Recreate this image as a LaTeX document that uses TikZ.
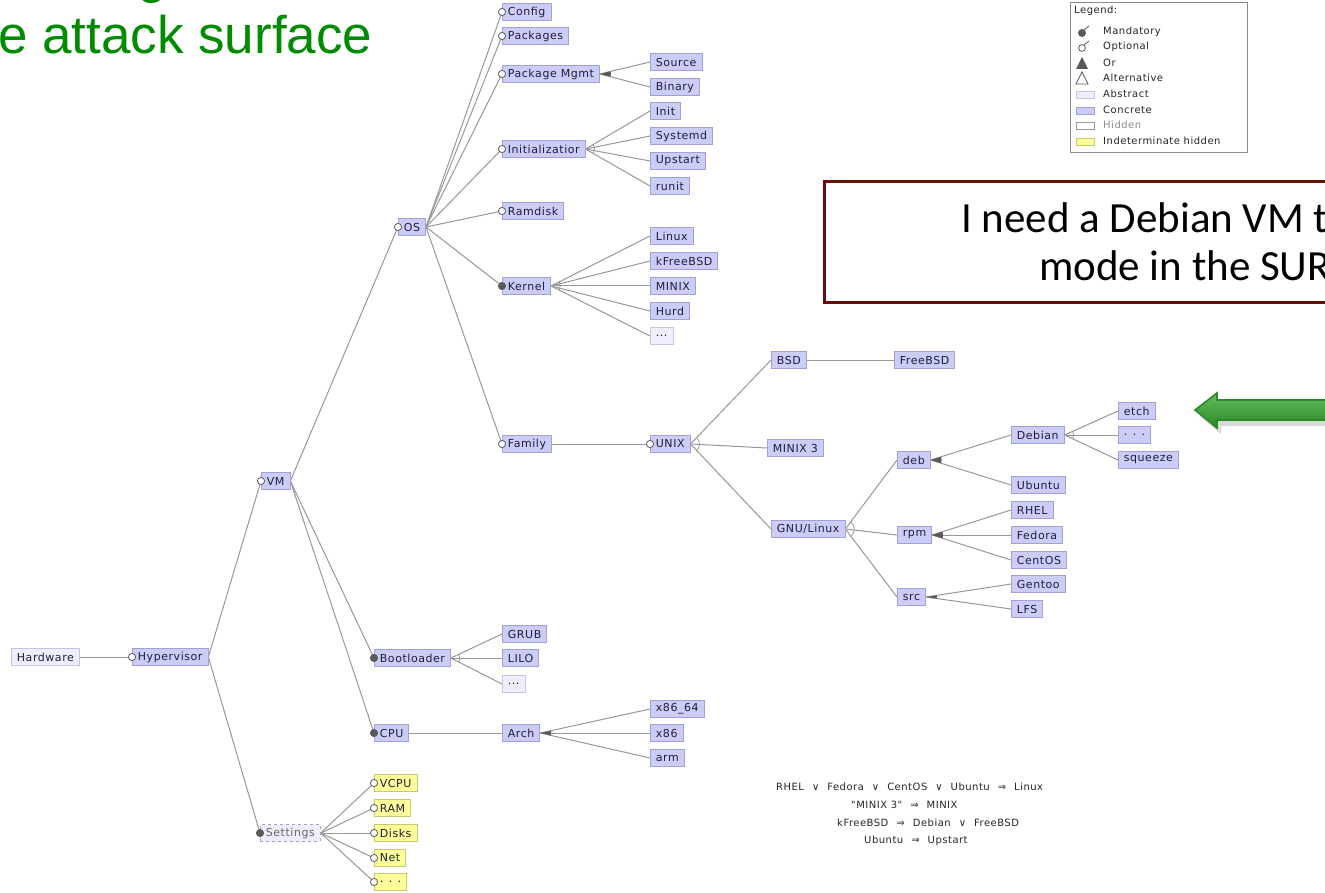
\documentclass[tikz,border=0pt]{standalone}
\usepackage{fontspec}
\setmainfont{DejaVu Sans}
\newfontfamily\nodef[LetterSpace=5]{DejaVu Sans}
\newfontfamily\carl{Carlito}
\newfontfamily\arialf{Liberation Sans}
\usetikzlibrary{calc}
\pgfdeclarelayer{bg}\pgfdeclarelayer{fg}\pgfsetlayers{bg,main,fg}
\definecolor{conc}{HTML}{CCCCF8}
\definecolor{concb}{HTML}{A0A0DC}
\definecolor{absf}{HTML}{EEEEFD}
\definecolor{absb}{HTML}{C4C4E6}
\definecolor{yelf}{HTML}{FFFF99}
\definecolor{yelb}{HTML}{C8C870}
\definecolor{edgec}{HTML}{979797}
\definecolor{markc}{HTML}{5A5A5A}
\definecolor{txt}{HTML}{1E1E3C}
\definecolor{ttlgreen}{HTML}{008C00}
\definecolor{boxred}{HTML}{6B0C0C}
\definecolor{arrg}{HTML}{3FA83A}
\definecolor{arrgd}{HTML}{2A8A25}
\tikzset{
  feat/.style={anchor=west, inner xsep=5.5pt, inner ysep=0pt, minimum height=17pt,
    font=\nodef\fontsize{11}{13}\selectfont, text=txt, line width=0.8pt},
  conc/.style={feat, fill=conc, draw=concb},
  abst/.style={feat, fill=absf, draw=absb},
  yel/.style={feat, fill=yelf, draw=yelb},
  hid/.style={feat, fill=absf, draw=concb, dashed, text=black!60},
  edge/.style={draw=edgec, line width=1pt},
  optmark/.style={draw=markc, fill=white, line width=0.8pt},
  manmark/.style={draw=markc, fill=markc, line width=0.8pt},
  legtxt/.style={anchor=west, inner sep=0pt, font=\nodef\fontsize{10}{12}\selectfont, text=black!85},
  constr/.style={anchor=west, inner sep=0pt, font=\nodef\fontsize{10}{12}\selectfont, text=black!85},
}
\newcommand\csp{\hspace{8pt}}
\newcommand\edg[2]{\begin{pgfonlayer}{bg}\draw[edge] (#1.east) -- (#2.west);\end{pgfonlayer}}
\newcommand\optm[1]{\begin{pgfonlayer}{fg}\draw[optmark] (#1.west) circle (3.6pt);\end{pgfonlayer}}
\newcommand\manm[1]{\begin{pgfonlayer}{fg}\draw[manmark] (#1.west) circle (3.6pt);\end{pgfonlayer}}
\newcommand\orw[3]{\begin{pgfonlayer}{fg}\fill[markc] let \p1=($(#2.west)-(#1.east)$), \p2=($(#3.west)-(#1.east)$),
  \n1={atan2(\y1,\x1)}, \n2={atan2(\y2,\x2)} in
  (#1.east) -- ($(#1.east)+(\n1:11pt)$) arc[start angle=\n1, end angle=\n2, radius=11pt] -- cycle;\end{pgfonlayer}}
\newcommand\altw[3]{\begin{pgfonlayer}{fg}\draw[edge, line width=0.8pt] let \p1=($(#2.west)-(#1.east)$), \p2=($(#3.west)-(#1.east)$),
  \n1={atan2(\y1,\x1)}, \n2={atan2(\y2,\x2)} in
  ($(#1.east)+(\n1:9pt)$) arc[start angle=\n1, end angle=\n2, radius=9pt];\end{pgfonlayer}}
\begin{document}
\begin{tikzpicture}[x=1pt,y=-1pt]
\path[use as bounding box] (0,0) rectangle (1325,893);
\begin{scope}
\clip (0,0) rectangle (1325,893);
% title
\node[anchor=base west, inner sep=0pt, text=ttlgreen, font=\arialf\fontsize{53}{60}\selectfont] (ttl) at (-2,54) {e attack surface};
\node[anchor=base west, inner sep=0pt, text=ttlgreen, font=\arialf\fontsize{53}{60}\selectfont] (ttlg) at (137,-7) {g};
% callout
\node[draw=boxred, line width=3pt, fill=white, anchor=north west, minimum width=540pt, minimum height=121pt, inner sep=0pt] (callout) at (823,180) {};
\node[anchor=base west, inner sep=0pt, font=\carl\fontsize{43}{50}\selectfont] (cl1) at (961,233) {I need a Debian VM to};
\node[anchor=base west, inner sep=0pt, font=\carl\fontsize{43}{50}\selectfont] (cl2) at (1039,280) {mode in the SURF};
% green arrow
\fill[black!25, opacity=0.6] (1199,416) -- (1221,399) -- (1221,406) -- (1340,406) -- (1340,426) -- (1221,426) -- (1221,434) -- cycle;
\draw[arrgd, line width=1.6pt, top color=arrg!80!white, bottom color=arrgd] (1195,410) -- (1217,393) -- (1217,400) -- (1340,400) -- (1340,420) -- (1217,420) -- (1217,428) -- cycle;
% legend
\node[draw=black!45, line width=0.8pt, fill=white, anchor=north west, minimum width=177pt, minimum height=150pt, inner sep=0pt] (legend) at (1070,2) {};
\node[legtxt] (lg0) at (1074,11) {Legend:};
\node[legtxt] (lg1) at (1103,32) {Mandatory};
\node[legtxt] (lg2) at (1103,47) {Optional};
\node[legtxt] (lg3) at (1103,63) {Or};
\node[legtxt] (lg4) at (1103,78) {Alternative};
\node[legtxt] (lg5) at (1103,94) {Abstract};
\node[legtxt] (lg6) at (1103,110) {Concrete};
\node[legtxt, text=black!45] (lg7) at (1103,125) {Hidden};
\node[legtxt] (lg8) at (1103,141) {Indeterminate hidden};
\fill[markc] (1082,33) circle (4pt);
\draw[markc, line width=0.8pt] (1084,30) -- (1089,26);
\draw[markc, fill=white, line width=0.8pt] (1082,48) circle (3.4pt);
\draw[markc, line width=0.8pt] (1084,45) -- (1089,41);
\fill[markc] (1082,57) -- (1076,69) -- (1088,69) -- cycle;
\draw[markc, line width=0.7pt] (1082,72) -- (1076,84) -- (1088,84) -- cycle;
\draw[absb, fill=absf, line width=0.8pt] (1076,91) rectangle (1094,98);
\draw[concb, fill=conc, line width=0.8pt] (1076,107) rectangle (1094,114);
\draw[black!40, fill=white, line width=0.8pt] (1076,122) rectangle (1094,129);
\draw[yelb, fill=yelf, line width=0.8pt] (1076,138) rectangle (1094,145);
% constraints
\node[constr] (c1) at (776,787) {RHEL\csp ∨\csp Fedora\csp ∨\csp CentOS\csp ∨\csp Ubuntu\csp ⇒\csp Linux};
\node[constr] (c2) at (851,805) {"MINIX 3"\csp ⇒\csp MINIX};
\node[constr] (c3) at (837,823) {kFreeBSD\csp ⇒\csp Debian\csp ∨\csp FreeBSD};
\node[constr] (c4) at (864,841) {Ubuntu\csp ⇒\csp Upstart};
% feature nodes
\node[abst] (hardware) at (11,657) {Hardware};
\node[conc] (hyper) at (132,657) {Hypervisor};
\node[conc] (vm) at (261,481) {VM};
\node[hid] (settings) at (260,833) {Settings};
\node[conc] (os) at (398,227) {OS};
\node[conc] (boot) at (374,658) {Bootloader};
\node[conc] (cpu) at (374,733) {CPU};
\node[yel] (vcpu) at (374,783) {VCPU};
\node[yel] (ram) at (374,808) {RAM};
\node[yel] (disks) at (374,833) {Disks};
\node[yel] (net) at (374,858) {Net};
\node[yel] (ydots) at (374,882) {. . .};
\node[conc] (config) at (502,12) {Config};
\node[conc] (packages) at (502,36) {Packages};
\node[conc] (pkgmgmt) at (502,74) {Package Mgmt};
\node[conc] (initz) at (502,149) {Initializatior};
\node[conc] (ramdisk) at (502,211) {Ramdisk};
\node[conc] (kernel) at (502,286) {Kernel};
\node[conc] (family) at (502,444) {Family};
\node[conc] (grub) at (502,634) {GRUB};
\node[conc] (lilo) at (502,658) {LILO};
\node[abst] (bdots) at (502,684) {...};
\node[conc] (arch) at (502,733) {Arch};
\node[conc] (source) at (650,62) {Source};
\node[conc] (binary) at (650,87) {Binary};
\node[conc] (init) at (650,111) {Init};
\node[conc] (systemd) at (650,136) {Systemd};
\node[conc] (upstart) at (650,161) {Upstart};
\node[conc] (runit) at (650,186) {runit};
\node[conc] (linux) at (650,236) {Linux};
\node[conc] (kfreebsd) at (650,261) {kFreeBSD};
\node[conc] (minix) at (650,286) {MINIX};
\node[conc] (hurd) at (650,311) {Hurd};
\node[abst] (kdots) at (650,336) {...};
\node[conc] (unix) at (650,444) {UNIX};
\node[conc] (x8664) at (650,709) {x86\_64};
\node[conc] (x86) at (650,733) {x86};
\node[conc] (arm) at (650,758) {arm};
\node[conc] (bsd) at (771,360) {BSD};
\node[conc] (freebsd) at (894,360) {FreeBSD};
\node[conc] (minix3) at (767,448) {MINIX 3};
\node[conc] (gnulinux) at (771,529) {GNU/Linux};
\node[conc] (deb) at (897,460) {deb};
\node[conc] (rpm) at (897,535) {rpm};
\node[conc] (src) at (897,597) {src};
\node[conc] (debian) at (1011,435) {Debian};
\node[conc] (ubuntu) at (1011,485) {Ubuntu};
\node[conc] (rhel) at (1011,510) {RHEL};
\node[conc] (fedora) at (1011,535) {Fedora};
\node[conc] (centos) at (1011,560) {CentOS};
\node[conc] (gentoo) at (1011,584) {Gentoo};
\node[conc] (lfs) at (1011,609) {LFS};
\node[conc] (etch) at (1118,411) {etch};
\node[conc] (ddots) at (1118,435) {. . .};
\node[conc] (squeeze) at (1118,460) {squeeze};
% edges
\edg{hardware}{hyper}\optm{hyper}
\edg{hyper}{vm}\optm{vm}
\edg{hyper}{settings}\manm{settings}
\edg{vm}{os}\optm{os}
\edg{vm}{boot}\manm{boot}
\edg{vm}{cpu}\manm{cpu}
\foreach \c in {config,packages,pkgmgmt,initz,ramdisk,family}{\edg{os}{\c}\optm{\c}}
\edg{os}{kernel}\manm{kernel}
\foreach \c in {source,binary}{\edg{pkgmgmt}{\c}}\orw{pkgmgmt}{source}{binary}
\foreach \c in {init,systemd,upstart,runit}{\edg{initz}{\c}}\altw{initz}{init}{runit}
\foreach \c in {linux,kfreebsd,minix,hurd,kdots}{\edg{kernel}{\c}}\altw{kernel}{linux}{kdots}
\edg{family}{unix}\optm{unix}
\foreach \c in {bsd,minix3,gnulinux}{\edg{unix}{\c}}\altw{unix}{bsd}{gnulinux}
\edg{bsd}{freebsd}
\foreach \c in {deb,rpm,src}{\edg{gnulinux}{\c}}\altw{gnulinux}{deb}{src}
\foreach \c in {debian,ubuntu}{\edg{deb}{\c}}\orw{deb}{debian}{ubuntu}
\foreach \c in {etch,ddots,squeeze}{\edg{debian}{\c}}\altw{debian}{etch}{squeeze}
\foreach \c in {rhel,fedora,centos}{\edg{rpm}{\c}}\orw{rpm}{rhel}{centos}
\foreach \c in {gentoo,lfs}{\edg{src}{\c}}\orw{src}{gentoo}{lfs}
\foreach \c in {grub,lilo,bdots}{\edg{boot}{\c}}\altw{boot}{grub}{bdots}
\edg{cpu}{arch}
\foreach \c in {x8664,x86,arm}{\edg{arch}{\c}}\orw{arch}{x8664}{arm}
\foreach \c in {vcpu,ram,disks,net,ydots}{\edg{settings}{\c}\optm{\c}}
\end{scope}
\end{tikzpicture}
\end{document}
